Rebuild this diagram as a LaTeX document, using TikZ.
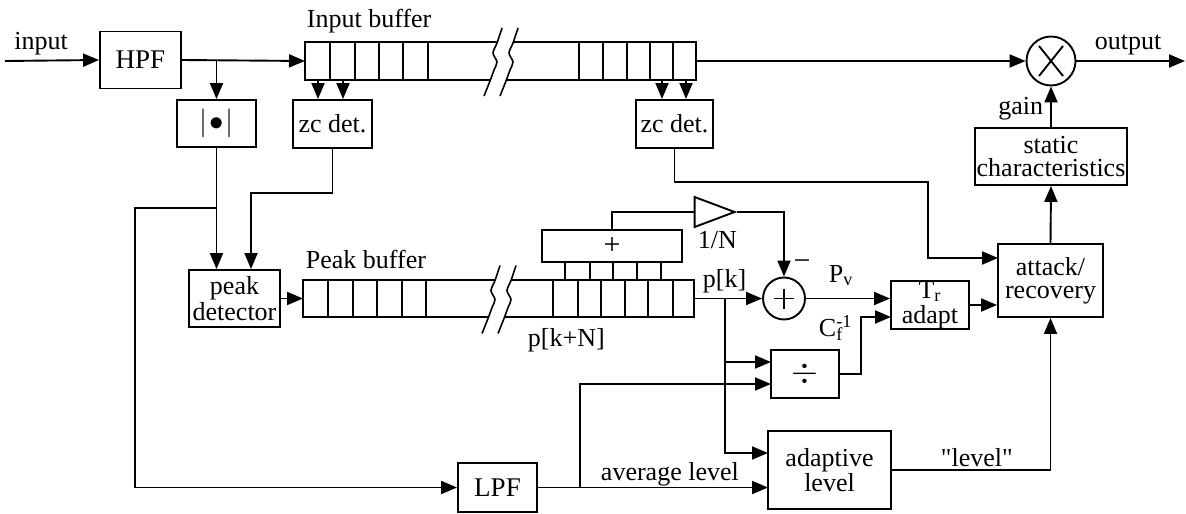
\documentclass[tikz,border=0pt]{standalone}
\usepackage{fontspec}
\setmainfont{Liberation Serif}
\newfontfamily\rawserif{Liberation Serif}[Ligatures=TeXOff]
\usetikzlibrary{arrows.meta,shapes.geometric,calc}
\newcommand{\wavebrk}[2]{%
  \foreach \dd in {0,16}{%
    \draw[line width=0.8pt] plot[smooth] coordinates {(#1+\dd+9,#2-33) (#1+\dd+4,#2-18) (#1+\dd+0,#2-8) (#1+\dd+4,#2+1) (#1+\dd+1,#2+9) (#1+\dd-3,#2+20) (#1+\dd-9,#2+35)};}}
\begin{document}
\begin{tikzpicture}[x=0.5pt,y=-0.5pt,line width=0.95pt,
  >={Triangle[length=8pt,width=6.5pt]},
  box/.style={draw,rectangle,inner sep=0pt,align=center,font=\fontsize{13}{11.5}\selectfont},
  lbl/.style={inner sep=0pt,font=\fontsize{13}{13}\selectfont},
  ring/.style={draw,circle,inner sep=0pt}]
\useasboundingbox (0,0) rectangle (1186,513);

% nodes
\node[box,minimum width=40.5pt,minimum height=28.5pt] (hpf) at (140.5,60) {\fontsize{13.5}{13.5}\selectfont HPF};
\node[box,minimum width=39.5pt,minimum height=23.5pt] (abs) at (216.5,123.5) {\fontsize{14}{14}\selectfont$|\!\bullet\!|$};
\node[box,minimum width=39.5pt,minimum height=24pt] (zc1) at (332.5,124) {zc det.};
\node[box,minimum width=38.5pt,minimum height=24pt] (zc2) at (674.5,124) {zc det.};
\node[ring,minimum size=24.5pt] (mul) at (1051,61) {};
\draw ($(mul)+(-12,-15)$) -- ($(mul)+(12,15)$);
\draw ($(mul)+(-12,15)$) -- ($(mul)+(12,-15)$);
\node[box,minimum width=76pt,minimum height=28.5pt] (stat) at (1051,156.5) {static\\characteristics};
\node[box,minimum width=52.5pt,minimum height=36.5pt] (att) at (1050.5,280.5) {attack/\\recovery};
\node[box,minimum width=39pt,minimum height=24pt,font=\fontsize{13}{12.5}\selectfont] (tr) at (930,305) {T\textsubscript{r}\\adapt};
\node[ring,minimum size=21pt] (sum) at (784,298.5) {};
\draw ($(sum)+(-10,0)$) -- ($(sum)+(10,0)$);
\draw ($(sum)+(0,-10)$) -- ($(sum)+(0,10)$);
\node[box,minimum width=70pt,minimum height=16pt] (plus) at (612,246) {\fontsize{15}{15}\selectfont +};
\node[draw,isosceles triangle,isosceles triangle stretches,minimum width=15pt,minimum height=20pt,inner sep=0pt] (tri) at (705,212) {};
\node[box,minimum width=45.5pt,minimum height=28.5pt] (pd) at (234.5,298.5) {peak\\detector};
\node[box,minimum width=34pt,minimum height=24pt] (div) at (805,374) {\fontsize{16}{16}\selectfont$\div$};
\node[box,minimum width=61.5pt,minimum height=39pt] (ada) at (829.5,470) {adaptive\\level};
\node[box,minimum width=39.5pt,minimum height=24.5pt] (lpf) at (497.5,487.5) {\fontsize{13.5}{13.5}\selectfont LPF};

% input buffer
\draw (497,42) -- (305,42) -- (305,80) -- (490,80);
\draw (513,42) -- (696,42) -- (696,80) -- (506,80);
\foreach \x in {330,355,379,403,428,579,603,627,650,673} \draw (\x,42) -- (\x,80);
\wavebrk{493}{61}
% peak buffer
\draw (495,280) -- (303,280) -- (303,317) -- (488,317);
\draw (511,280) -- (694,280) -- (694,317) -- (504,317);
\foreach \x in {328,353,377,402,426,553,578,601,625,648,673} \draw (\x,280) -- (\x,317);
\wavebrk{491}{298.5}

% coordinates
\coordinate (in) at (5,61);
\coordinate (ibl) at (305,61);
\coordinate (ibr) at (696,61);
\coordinate (out) at (1185,61);
\coordinate (jh) at (216.5,61);
\coordinate (ic1) at (318,80);
\coordinate (ic2) at (343,80);
\coordinate (ic3) at (662,80);
\coordinate (ic4) at (686,80);
\coordinate (pbl) at (303,298.5);
\coordinate (pbr) at (694,298.5);
\coordinate (pk) at (725,298.5);
\coordinate (ja) at (216.5,208);
\coordinate (z1b) at (251,193);
\coordinate (z2a) at (928,182);
\coordinate (attA) at (998,258);
\coordinate (jl) at (580,487.5);
\coordinate (divA) at (771,362);
\coordinate (divB) at (771,384);
\coordinate (adaA) at (768,453);
\coordinate (adaB) at (768,487.5);
\coordinate (dv) at (861,374);
\coordinate (trB) at (891,317);

% connectors
\draw[->] (in) -- (hpf.west);
\draw[->] (hpf.east) -- (ibl);
\draw[->] (jh) -- (abs.north);
\draw[->] (ic1) -- (ic1 |- zc1.north);
\draw[->] (ic2) -- (ic2 |- zc1.north);
\draw[->] (ic3) -- (ic3 |- zc2.north);
\draw[->] (ic4) -- (ic4 |- zc2.north);
\draw[->] (ibr) -- (mul.west);
\draw[->] (mul.east) -- (out);
\draw[->] (stat.north) -- (mul.south);
\draw[->] (att.north) -- (stat.south);
\draw[->] (zc2.south) |- (z2a) |- (attA);
\draw[->] (tr.east) -- (att.west |- tr.east);
\draw[->] (abs.south) -- (abs.south |- pd.north);
\draw[->] (ja) -| (135,487.5) -- (lpf.west);
\draw[->] (zc1.south) |- (z1b) -- (z1b |- pd.north);
\draw[->] (pd.east |- pbl) -- (pbl);
\draw[->] (pbr) -- (sum.west);
\draw[->] (pk) |- (divA);
\draw[->] (pk) |- (adaA);
\draw[->] (lpf.east) -- (adaB);
\draw[->] (jl) |- (divB);
\draw[->] (div.east) -- (dv) |- (trB);
\draw[->] (sum.east) -- (tr.west |- sum.east);
\draw[->] (ada.east) -| (att.south);
\foreach \x in {565,590,613,637,661} \draw (\x,262) -- (\x,280);
\draw (plus.north) |- (tri.west);
\draw[->] (tri.apex) -| (sum.north);

% labels
\node[lbl,anchor=base] at (41,50) {input};
\node[lbl,anchor=base] at (1128,50) {output};
\node[lbl,anchor=base west] at (306,28) {Input buffer};
\node[lbl,anchor=base west] at (305,268) {Peak buffer};
\node[lbl,anchor=base east] at (1044,115) {gain};
\node[lbl,anchor=base west] at (697,248) {1/N};
\node[lbl,anchor=base west] at (702,287) {p[k]};
\node[lbl,anchor=base west] at (527,346) {p[k+N]};
\node[lbl,anchor=base west] at (828,282) {P\textsubscript{v}};
\node[lbl,anchor=base west] at (818,336) {C\rlap{\textsuperscript{-1}}\textsubscript{f}};
\node[lbl,anchor=base west] at (600,480) {average level};
\node[lbl,anchor=base west] at (940,466) {\rawserif"level"};
\node[lbl,anchor=base,font=\fontsize{15}{15}\selectfont] at (802,270) {−};
\end{tikzpicture}
\end{document}
